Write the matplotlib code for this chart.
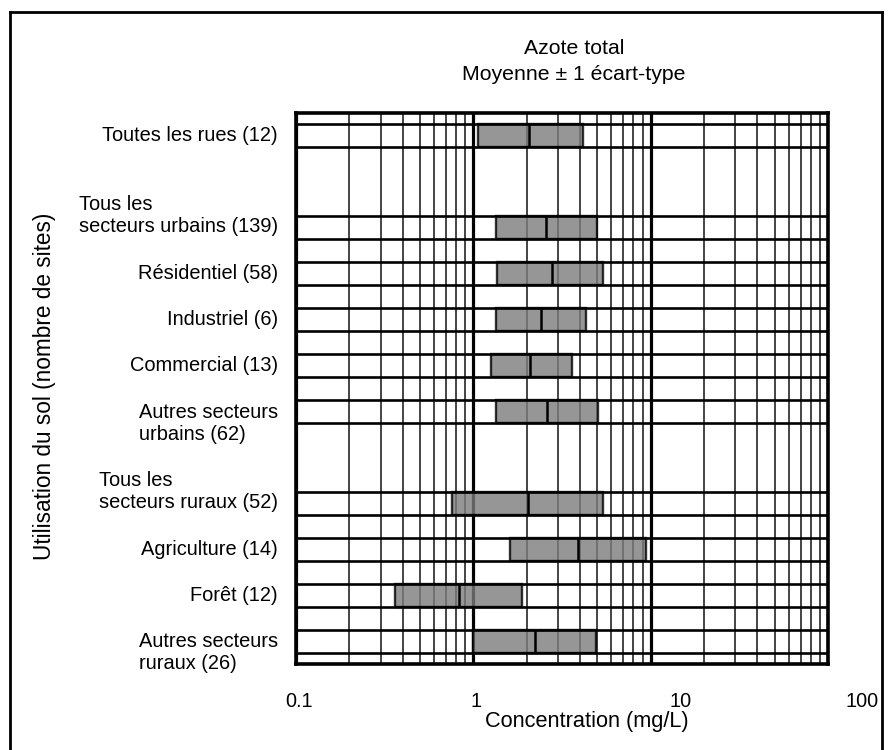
import numpy as np
import matplotlib
matplotlib.use('Agg')
import matplotlib.pyplot as plt
from matplotlib.ticker import LogLocator, NullFormatter
from matplotlib.transforms import ScaledTranslation, blended_transform_factory
from matplotlib.lines import Line2D

plt.rcParams['font.family'] = ['Liberation Sans', 'DejaVu Sans']

# Azote total : moyenne +/- 1 écart-type (mg/L)
categories = ['Toutes les rues (12)',
              'Tous les\nsecteurs urbains (139)',
              'Résidentiel (58)',
              'Industriel (6)',
              'Commercial (13)',
              'Autres secteurs\nurbains (62)',
              'Tous les\nsecteurs ruraux (52)',
              'Agriculture (14)',
              'Forêt (12)',
              'Autres secteurs\nruraux (26)']
rangees = [1, 5, 7, 9, 11, 13, 17, 19, 21, 23]
moins_1et = [1.06, 1.34, 1.36, 1.34, 1.26, 1.34, 0.758, 1.61, 0.362, 1.00]
moyenne = [2.06, 2.57, 2.78, 2.41, 2.09, 2.60, 2.03, 3.89, 0.830, 2.23]
plus_1et = [4.15, 4.98, 5.39, 4.32, 3.60, 5.05, 5.39, 9.41, 1.88, 4.92]
ticks_x = [0.1, 1, 10, 100]
labels_x = ['0.1', '1', '10', '100']

W, H = 890, 750
fig = plt.figure(figsize=(W / 100, H / 100), dpi=100)
ax = fig.add_axes([296 / W, 1 - 664 / H, (828 - 296) / W, (664 - 113) / H])

rangees = np.array(rangees)
moins_1et = np.array(moins_1et)
plus_1et = np.array(plus_1et)

ax.set_xscale('log')
ax.set_xlim(0.1, 100)
ax.set_ylim(24, 0)

# grille verticale (log)
ax.xaxis.set_minor_locator(LogLocator(base=10, subs=np.arange(2, 10)))
ax.xaxis.set_minor_formatter(NullFormatter())
ax.grid(True, which='minor', axis='x', color='#444444', lw=1.4, zorder=1)
ax.grid(True, which='major', axis='x', color='black', lw=2.3, zorder=1)
ax.set_axisbelow(True)

# barres
ax.barh(rangees, plus_1et - moins_1et, left=moins_1et, height=1.0,
        color='#7c7c7c', alpha=0.8, edgecolor='black', lw=1.7, zorder=2)
ax.vlines(moyenne, rangees - 0.5, rangees + 0.5, color='black', lw=1.8, zorder=3)

# lignes horizontales de chaque rangée
for r in rangees:
    ax.axhline(r - 0.5, color='black', lw=1.9, zorder=4)
    ax.axhline(r + 0.5, color='black', lw=1.9, zorder=4)

for s in ax.spines.values():
    s.set_linewidth(2.6)
    s.set_zorder(5)

ax.set_yticks([])
ax.set_xticks(ticks_x, labels=labels_x)
ax.tick_params(which='both', length=0, labelsize=14.3, pad=20)
decal = [3, 3, 30, 34]
for lab, dx in zip(ax.get_xticklabels(), decal):
    lab.set_transform(lab.get_transform() + ScaledTranslation(dx / 100, 0, fig.dpi_scale_trans))

# étiquettes des catégories
trans = blended_transform_factory(ax.transAxes, ax.transData) + \
    ScaledTranslation(-18 / 100, 0, fig.dpi_scale_trans)
for lab, r in zip(categories, rangees):
    lignes = lab.split('\n')
    ancre = next((i for i, l in enumerate(lignes) if 'secteurs' in l), 0)
    y = r - (ancre - (len(lignes) - 1) / 2) * 1.03
    ax.text(0, y, lab, transform=trans, ha='right', va='center',
            multialignment='left', fontsize=14.4, linespacing=1.2)

fig.text(574 / W, 1 - 49 / H, 'Azote total', ha='center', va='center', fontsize=15.3)
fig.text(574 / W, 1 - 74 / H, 'Moyenne ± 1 écart-type', ha='center', va='center', fontsize=15.3)
fig.text(587 / W, 1 - 721 / H, 'Concentration (mg/L)', ha='center', va='center', fontsize=15.7)
fig.text(45 / W, 1 - 386 / H, 'Utilisation du sol (nombre de sites)', rotation=90,
         ha='center', va='center', fontsize=16.3)

# cadre extérieur
for xs, ys in [([10, 10], [12, 760]), ([10, 882], [12, 12]), ([882, 882], [12, 760])]:
    fig.add_artist(Line2D(np.array(xs) / W, 1 - np.array(ys) / H, color='black',
                          lw=2, transform=fig.transFigure))

fig.savefig('out.png', dpi=100)
